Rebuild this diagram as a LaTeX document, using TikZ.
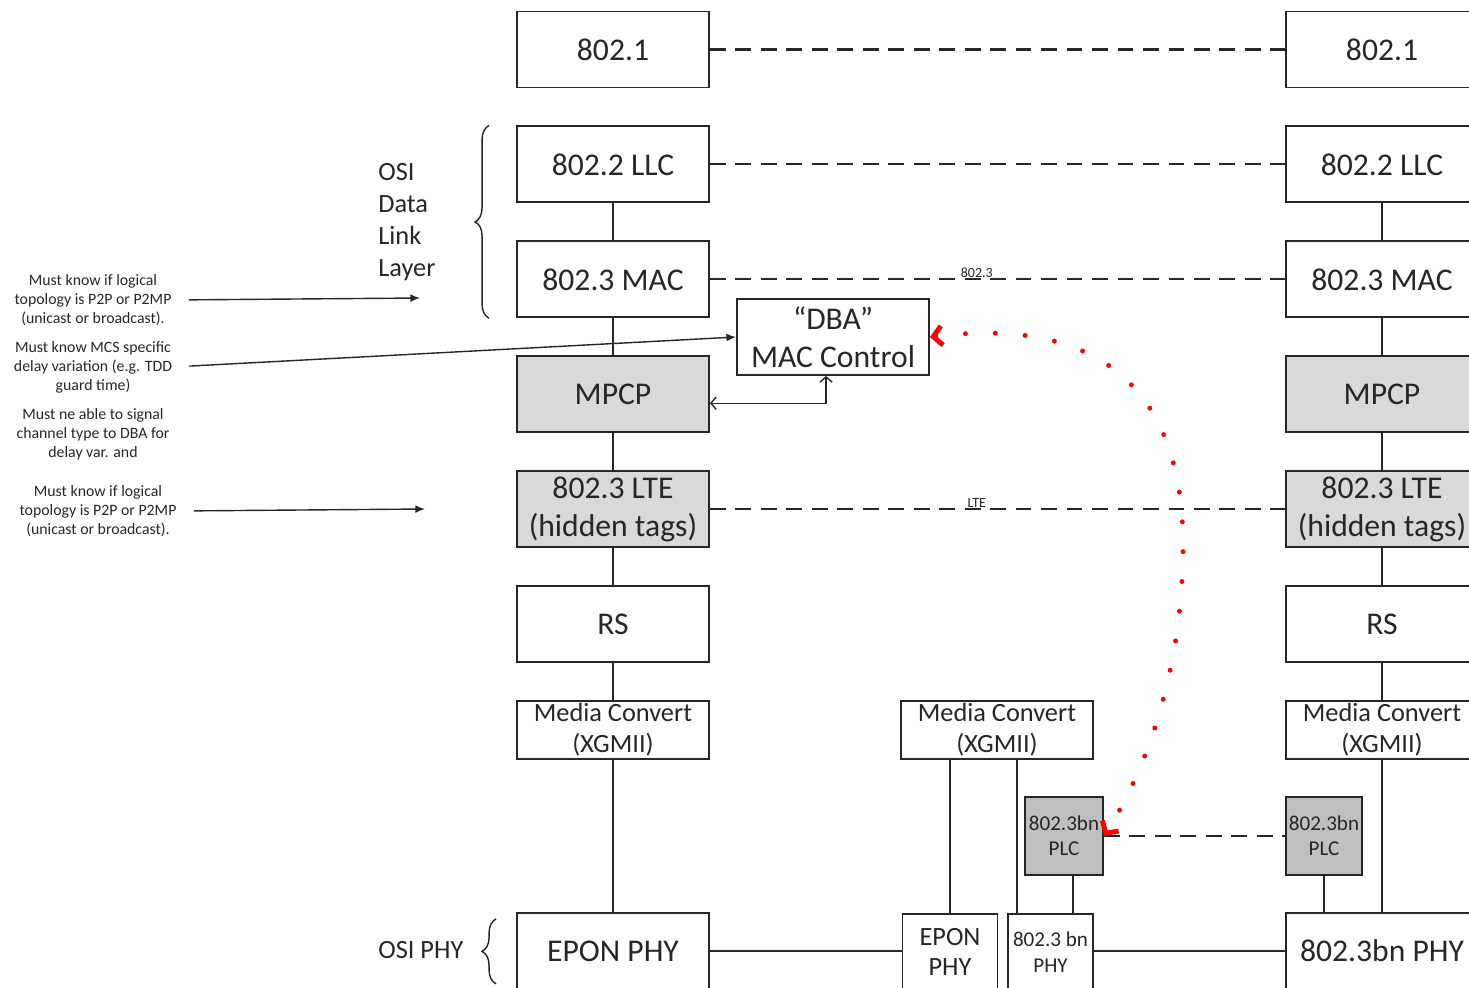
\documentclass[tikz,border=0pt]{standalone}
\usepackage{fontspec}
\setmainfont{Carlito}
\usepackage{tikz}
\usetikzlibrary{positioning,arrows.meta,decorations.pathreplacing}
\definecolor{tagfill}{RGB}{217,217,217}
\definecolor{plcfill}{RGB}{191,191,191}
\definecolor{inkgray}{RGB}{38,38,38}

\begin{document}
\begin{tikzpicture}[
    x=0.02cm, y=-0.02cm,
    every node/.style={text=inkgray},
    layer/.style={draw=inkgray, line width=1.1pt, minimum width=3.84cm, minimum height=1.52cm,
                  inner sep=0pt, align=center, font=\fontsize{18}{21.6}\selectfont},
    tagged/.style={layer, fill=tagfill},
    conv/.style={draw=inkgray, line width=1.1pt, minimum width=3.84cm, minimum height=1.16cm,
                 inner sep=0pt, align=center, font=\fontsize{15}{17.6}\selectfont},
    smallphy/.style={conv, anchor=north, minimum height=1.52cm},
    plc/.style={draw=inkgray, line width=1.1pt, fill=plcfill, minimum width=1.56cm,
                minimum height=1.56cm, inner sep=0pt, align=center,
                font=\fontsize{12}{14.2}\selectfont},
    note/.style={align=center, inner sep=0pt, font=\fontsize{9}{10.8}\selectfont},
    side/.style={align=left, inner sep=0pt, font=\fontsize{15}{18.2}\selectfont},
    tag/.style={above, inner sep=0.5pt, font=\fontsize{8}{9}\selectfont},
    link/.style={draw=inkgray, line width=1.1pt},
    peer/.style={draw=inkgray, line width=1.2pt, dash pattern=on 9pt off 5.5pt},
    arr/.style={-{Latex[length=5.5pt,width=4.5pt]}, draw=inkgray, line width=0.8pt},
    ctrl/.style={{Straight Barb[length=3pt,width=7pt]}-{Straight Barb[length=3pt,width=7pt]},
                 draw=inkgray, line width=0.8pt},
    brace/.style={draw=inkgray, line width=0.8pt, decorate,
                  decoration={brace, amplitude=0.28cm}},
    dbalink/.style={red, line width=2.8pt, line cap=round, dash pattern=on 0pt off 17pt,
                    {Straight Barb[length=5pt,width=11pt]}-{Straight Barb[length=5pt,width=11pt]}},
    node distance=0.74cm
  ]
    \useasboundingbox (0,0) rectangle (1469,987);

    % left stack
    \node[layer] (dotoneL) at (613,49.5) {802.1};
    \node[layer, below=of dotoneL] (llcL) {802.2 LLC};
    \node[layer, below=of llcL] (macL) {802.3 MAC};
    \node[tagged, below=of macL] (mpcpL) {MPCP};
    \node[tagged, below=of mpcpL] (lteL) {802.3 LTE\\(hidden tags)};
    \node[layer, below=of lteL] (rsL) {RS};
    \node[conv, below=of rsL] (mcL) {Media Convert\\(XGMII)};
    \node[layer, below=3.04cm of mcL] (phyL) {EPON PHY};

    % right stack
    \node[layer] (dotoneR) at (1382,49.5) {802.1};
    \node[layer, below=of dotoneR] (llcR) {802.2 LLC};
    \node[layer, below=of llcR] (macR) {802.3 MAC};
    \node[tagged, below=of macR] (mpcpR) {MPCP};
    \node[tagged, below=of mpcpR] (lteR) {802.3 LTE\\(hidden tags)};
    \node[layer, below=of lteR] (rsR) {RS};
    \node[conv, below=of rsR] (mcR) {Media Convert\\(XGMII)};
    \node[layer, below=3.04cm of mcR] (phyR) {802.3bn PHY};

    % middle parts
    \node[layer] (dba) at (833,337) {``DBA''\\MAC Control};
    \node[conv] (mcM) at (997,730) {Media Convert\\(XGMII)};
    \node[smallphy, minimum width=1.9cm] (eponphy) at (950,913) {EPON\\PHY};
    \node[smallphy, minimum width=1.7cm, font=\fontsize{12}{14.8}\selectfont] (bnphy) at (1050.5,913) {802.3 bn\\PHY};
    \node[plc] (plcM) at (1064,836) {802.3bn\\PLC};
    \node[plc, minimum width=1.52cm] (plcR) at (1324,836) {802.3bn\\PLC};

    % side notes
    \node[note] (topoA) at (93,300) {Must know if logical\\topology is P2P or P2MP\\(unicast or broadcast).};
    \node[note] (delay) at (93,367) {Must know MCS specific\\delay variation (e.g. TDD\\guard time)};
    \node[note] (signal) at (93,434) {Must ne able to signal\\channel type to DBA for\\delay var. and};
    \node[note] (topoB) at (98,511) {Must know if logical\\topology is P2P or P2MP\\(unicast or broadcast).};
    \node[side, anchor=west] (osidl) at (378,222) {OSI\\Data\\Link\\Layer};
    \node[side, anchor=west] (osiphy) at (378,950) {OSI PHY};
    \coordinate (topoAend) at (420,298);
    \coordinate (topoBend) at (425,509);

    % stacks
    \foreach \s in {L,R}{
      \foreach \a/\b in {llc/mac,mac/mpcp,mpcp/lte,lte/rs,rs/mc,mc/phy}
        \draw[link] (\a\s) -- (\b\s);
    }

    % peer links
    \draw[peer] (dotoneL) -- (dotoneR);
    \draw[peer] (llcL) -- (llcR);
    \draw[peer] (macL) -- node[tag, pos=0.464] {802.3} (macR);
    \draw[peer] (lteL) -- node[tag, pos=0.464] {LTE} (lteR);
    \draw[peer] (plcM) -- (plcR);

    % middle wiring
    \coordinate (bnin) at ([xshift=0.2cm]bnphy.north west);
    \coordinate (plcdown) at ([xshift=0.18cm]plcM.south);
    \draw[link] (eponphy.north |- mcM.south) -- (eponphy.north);
    \draw[link] (bnin |- mcM.south) -- (bnin);
    \draw[link] (plcdown) -- (plcdown |- bnphy.north);
    \draw[link] (plcR) -- (plcR |- phyR.north);
    \draw[link] (phyL.east) -- (phyL.east -| eponphy.west);
    \draw[link] (bnphy.east |- phyR.west) -- (phyR.west);

    % MAC control
    \coordinate (mpcpout) at ([yshift=-0.18cm]mpcpL.east);
    \coordinate (dbain) at ([xshift=-0.14cm]dba.south);
    \draw[ctrl] (mpcpout) -| (dbain);
    \draw[dbalink] (dba.east) .. controls (1110,315) and (1183,400) .. (1183,545)
                              .. controls (1183,680) and (1140,780) .. (plcM.east);

    % notes and braces
    \draw[arr, shorten <=0.34cm] (topoA.east) -- (topoAend);
    \draw[arr, shorten <=0.34cm] (delay.east) -- (dba.west);
    \draw[arr, shorten <=0.34cm] (topoB.east) -- (topoBend);
    \draw[brace] ([xshift=-0.54cm]macL.south west) -- ([xshift=-0.54cm]llcL.north west);
    \draw[brace] ([xshift=-0.4cm,yshift=0.12cm]phyL.south west) -- ([xshift=-0.4cm,yshift=-0.14cm]phyL.north west);
\end{tikzpicture}
\end{document}
